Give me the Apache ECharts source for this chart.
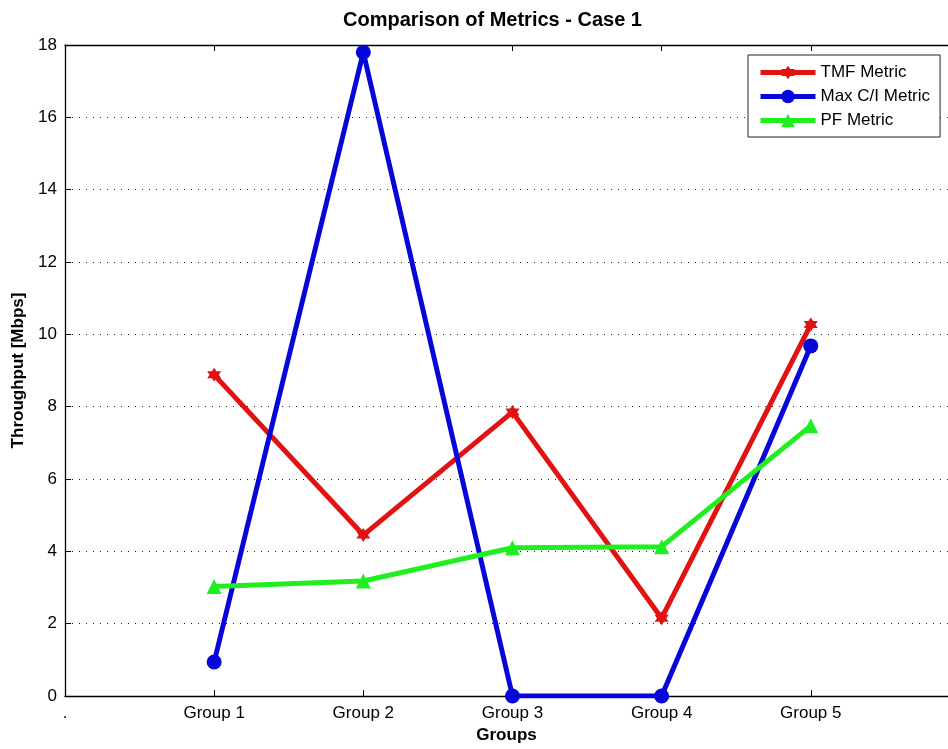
<!DOCTYPE html>
<html>
<head>
<meta charset="utf-8">
<script src="https://cdn.jsdelivr.net/npm/echarts@6/dist/echarts.min.js"></script>
<style>
  html, body { margin: 0; padding: 0; background: #fff; }
  #chart { width: 948px; height: 749px; }
</style>
</head>
<body>
<div id="chart"></div>
<script>
// Throughput per user group for the three scheduling metrics
const groups = ['Group 1', 'Group 2', 'Group 3', 'Group 4', 'Group 5'];
const tickLabels = ['.', 'Group 1', 'Group 2', 'Group 3', 'Group 4', 'Group 5', ''];
const tmfMetric = [8.88, 4.45, 7.85, 2.15, 10.27];
const maxCIMetric = [0.94, 17.8, 0, 0, 9.68];
const pfMetric = [3.03, 3.18, 4.1, 4.13, 7.47];

const FONT = 'Liberation Sans, Arial, sans-serif';
const hexagram = 'path://M0,-10 L2.9,-5 L8.66,-5 L5.8,0 L8.66,5 L2.9,5 L0,10 L-2.9,5 L-8.66,5 L-5.8,0 L-8.66,-5 L-2.9,-5 Z';

// pair each value with its group position (Group 1 sits at x = 1)
const toPoints = vals => vals.map((v, i) => [i + 1, v]);

function lineSeries(name, vals, color, symbol, size) {
  return {
    name: name,
    type: 'line',
    data: toPoints(vals),
    symbol: symbol,
    symbolSize: size,
    showAllSymbol: true,
    lineStyle: { color: color, width: 5 },
    itemStyle: { color: color, borderWidth: 0 },
    emphasis: { disabled: true },
    animation: false
  };
}

const legendItem = (name, color) => ({
  name: name,
  itemStyle: { color: color },
  lineStyle: { color: color, width: 5 }
});

// the axes box runs past the right edge of the canvas, so the visible x range stops short of 6
const xMaxVisible = 5.92;

const chart = echarts.init(document.getElementById('chart'), null, { renderer: 'canvas' });
chart.setOption({
  backgroundColor: '#fff',
  textStyle: { fontFamily: FONT },
  graphic: [{
    type: 'text',
    left: 508 - 165,
    top: 10,
    style: {
      text: 'Comparison of Metrics - Case 1',
      font: 'bold 20px ' + FONT,
      fill: '#000',
      width: 330,
      align: 'center'
    }
  }],
  grid: { left: 65, right: 0, top: 45, bottom: 51, containLabel: false },
  legend: {
    left: 748,
    top: 55,
    orient: 'vertical',
    backgroundColor: '#fff',
    borderColor: '#222',
    borderWidth: 1,
    borderRadius: 0,
    padding: [9, 10, 8, 10],
    itemWidth: 55,
    itemHeight: 17,
    itemGap: 7,
    textStyle: { fontFamily: FONT, fontSize: 17, color: '#000', width: 122 },
    data: [
      legendItem('TMF Metric', '#e31212'),
      legendItem('Max C/I Metric', '#0606d8'),
      legendItem('PF Metric', '#1fee1f')
    ]
  },
  xAxis: [{
    type: 'value',
    min: 0,
    max: xMaxVisible,
    interval: 1,
    position: 'bottom',
    name: 'Groups',
    nameLocation: 'middle',
    nameGap: 31,
    nameTextStyle: { fontFamily: FONT, fontSize: 17, fontWeight: 'bold', color: '#000' },
    axisLine: { onZero: false, lineStyle: { color: '#000', width: 1.3 } },
    axisTick: { inside: true, length: 6, lineStyle: { color: '#000' } },
    axisLabel: {
      fontFamily: FONT, fontSize: 17, color: '#000', margin: 9,
      showMaxLabel: false,
      formatter: v => (Math.abs(v - Math.round(v)) < 1e-6 ? tickLabels[Math.round(v)] : '') || ''
    },
    splitLine: { show: false }
  }, {
    type: 'value',
    min: 0,
    max: xMaxVisible,
    interval: 1,
    position: 'top',
    axisLine: { onZero: false, lineStyle: { color: '#000', width: 1.3 } },
    axisTick: { inside: true, length: 6, lineStyle: { color: '#000' } },
    axisLabel: { show: false },
    splitLine: { show: false }
  }],
  yAxis: {
    type: 'value',
    min: 0,
    max: 18,
    interval: 2,
    name: 'Throughput [Mbps]',
    nameLocation: 'middle',
    nameGap: 35,
    nameTextStyle: { fontFamily: FONT, fontSize: 17, fontWeight: 'bold', color: '#000' },
    axisLine: { show: true, onZero: false, lineStyle: { color: '#000', width: 1.3 } },
    axisTick: { show: true, inside: true, length: 6, lineStyle: { color: '#000' } },
    axisLabel: { fontFamily: FONT, fontSize: 17, color: '#000', margin: 8 },
    splitLine: { show: true, lineStyle: { color: '#222', width: 1, type: [1, 6] } }
  },
  series: [
    lineSeries('TMF Metric', tmfMetric, '#e31212', hexagram, 14),
    lineSeries('Max C/I Metric', maxCIMetric, '#0606d8', 'circle', 15),
    lineSeries('PF Metric', pfMetric, '#1fee1f', 'triangle', 15)
  ]
});
</script>
</body>
</html>
